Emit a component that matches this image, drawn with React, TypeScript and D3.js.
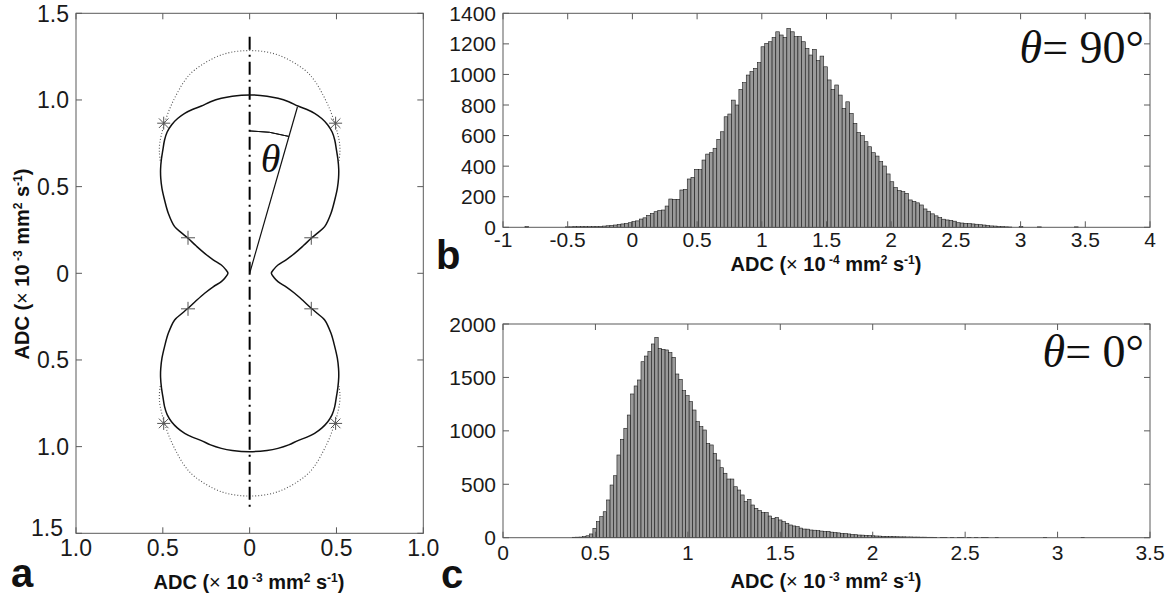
import React from 'react';
import * as d3 from 'd3';

// panel a: ADC profile, one quadrant (x, y in 10^-3 mm^2 s^-1), mirrored to the other three
const profileX = [0, 0.10, 0.163, 0.225, 0.278, 0.330, 0.374, 0.415, 0.45, 0.475, 0.49, 0.50, 0.508, 0.513, 0.512, 0.505, 0.490, 0.468, 0.432, 0.394, 0.355, 0.31, 0.259, 0.21, 0.163, 0.14, 0.125];
const profileY = [1.029, 1.022, 1.01, 0.99, 0.965, 0.945, 0.923, 0.893, 0.856, 0.815, 0.769, 0.71, 0.66, 0.60, 0.55, 0.49, 0.423, 0.345, 0.269, 0.235, 0.202, 0.16, 0.115, 0.078, 0.048, 0.024, 0];
// dotted outline, one quadrant
const outlineX = [0, 0.163, 0.317, 0.375, 0.422, 0.46, 0.49, 0.508, 0.518, 0.52, 0.515];
const outlineY = [1.285, 1.26, 1.173, 1.11, 1.03, 0.95, 0.866, 0.80, 0.75, 0.70, 0.65];
const starMarks = [[0.495, 0.866]];
const plusMarks = [[0.355, 0.205]];
const thetaDeg = 16;

const aXTicks = [-1, -0.5, 0, 0.5, 1];
const aXTickLabels = ['1.0', '0.5', '0', '0.5', '1.0'];
const aYTicks = [1.5, 1, 0.5, 0, -0.5, -1, -1.5];
const aYTickLabels = ['1.5', '1.0', '0.5', '0', '0.5', '1.0', '1.5'];

// panel b: theta = 90 deg, 150 bins
const bStart = -0.83;
const bBin = 0.0285;
const bCounts = [
  5, 0, 0, 0, 0, 0, 0, 0, 0, 0, 0,
  3, 3, 4, 4, 4, 4, 4, 5, 5, 6,
  8, 10, 12, 15, 18, 22, 25, 30, 37, 42,
  54, 62, 78, 90, 102, 110, 113, 139, 185, 183,
  183, 244, 248, 316, 327, 379, 377, 440, 479, 488,
  517, 575, 625, 723, 741, 832, 800, 902, 946, 996,
  1018, 1040, 1077, 1181, 1203, 1214, 1242, 1279, 1258, 1242,
  1301, 1279, 1247, 1247, 1214, 1171, 1127, 1164, 1090, 1120,
  1050, 964, 902, 931, 865, 778, 821, 745, 680, 619,
  600, 560, 527, 488, 466, 430, 401, 349, 298, 260,
  240, 233, 222, 179, 170, 160, 146, 120, 105, 88,
  75, 63, 53, 48, 45, 40, 30, 28, 26, 24,
  22, 20, 17, 15, 12, 9, 8, 6, 5, 3,
  2, 0, 0, 4, 0, 0, 0, 0, 3, 0,
  0, 0, 0, 0, 0, 0, 0, 0, 3
];
const bXTicks = [-1, -0.5, 0, 0.5, 1, 1.5, 2, 2.5, 3, 3.5, 4];
const bXTickLabels = ['-1', '-0.5', '0', '0.5', '1', '1.5', '2', '2.5', '3', '3.5', '4'];
const bYTicks = [0, 200, 400, 600, 800, 1000, 1200, 1400];

// panel c: theta = 0 deg, 150 bins
const cStart = 0.3746;
const cBin = 0.0186;
const cCounts = [
  4, 5, 6, 10, 18, 35, 88, 150, 197, 243,
  353, 493, 580, 774, 921, 1024, 1148, 1345, 1420, 1476,
  1647, 1700, 1741, 1813, 1875, 1772, 1763, 1757, 1732, 1688,
  1532, 1482, 1376, 1329, 1273, 1195, 1086, 1039, 1008, 883,
  868, 790, 727, 655, 603, 549, 549, 477, 446, 400,
  337, 359, 306, 275, 253, 234, 234, 203, 181, 190,
  166, 150, 135, 119, 110, 103, 90, 81, 80, 72,
  70, 66, 62, 58, 60, 52, 48, 45, 40, 38,
  35, 30, 28, 25, 24, 22, 20, 18, 16, 15,
  13, 12, 10, 10, 9, 8, 8, 7, 7, 6,
  6, 5, 5, 4, 4, 3, 0, 3, 3, 0,
  3, 0, 3, 3, 0, 3, 0, 2, 0, 2,
  2, 0, 0, 2, 0, 0, 0, 0, 0, 0,
  0, 0, 0, 0, 0, 0, 0, 2, 0, 0,
  0, 0, 0, 0, 0, 0, 0, 0, 2, 0
];
const cXTicks = [0, 0.5, 1, 1.5, 2, 2.5, 3, 3.5];
const cXTickLabels = ['0', '0.5', '1', '1.5', '2', '2.5', '3', '3.5'];
const cYTicks = [0, 500, 1000, 1500, 2000];

const SANS = '"Liberation Sans", Arial, Helvetica, sans-serif';
const SERIF = '"Liberation Serif", "Times New Roman", serif';
const AXIS = '#5a5a5a';

function Box({ x, y, xTicks, xLabels, yTicks, yLabels, fontSize, xGap, lastShift }: any) {
  const [x0, x1] = x.range();
  const [yb, yt] = y.range();
  const t = 6;
  return (
    <g>
      <rect x={x0} y={yt} width={x1 - x0} height={yb - yt} fill="none" stroke={AXIS} strokeWidth={1} />
      {xTicks.map((v: number, i: number) => (
        <g key={'x' + i}>
          <line x1={x(v)} x2={x(v)} y1={yb} y2={yb - t} stroke={AXIS} />
          <line x1={x(v)} x2={x(v)} y1={yt} y2={yt + t} stroke={AXIS} />
          <text x={x(v)} y={yb + xGap} textAnchor="middle" fontFamily={SANS} fontSize={fontSize} fill="#1a1a1a">{xLabels[i]}</text>
        </g>
      ))}
      {yTicks.map((v: number, i: number) => {
        const s = lastShift && i === yTicks.length - 1 ? lastShift : [0, 0];
        return (
          <g key={'y' + i}>
            <line x1={x0} x2={x0 + t} y1={y(v)} y2={y(v)} stroke={AXIS} />
            <line x1={x1} x2={x1 - t} y1={y(v)} y2={y(v)} stroke={AXIS} />
            <text x={x0 - 7 + s[0]} y={y(v) + s[1]} dy="0.36em" textAnchor="end" fontFamily={SANS} fontSize={fontSize} fill="#1a1a1a">{yLabels[i]}</text>
          </g>
        );
      })}
    </g>
  );
}

function AdcLabel({ x, y, exp, rotate }: any) {
  return (
    <text x={x} y={y} textAnchor="middle" fontFamily={SANS} fontWeight="bold" fontSize={20} fill="#111"
      transform={rotate ? `rotate(-90 ${x} ${y})` : undefined}>
      ADC (<tspan fontWeight="normal">×</tspan> 10<tspan dy={-7} fontSize={12}> {exp}</tspan><tspan dy={7}> mm</tspan><tspan dy={-7} fontSize={12}>2</tspan><tspan dy={7}> s</tspan><tspan dy={-7} fontSize={12}>-1</tspan><tspan dy={7}>)</tspan>
    </text>
  );
}

function Histogram({ counts, start, bin, x, y }: any) {
  return (
    <g>
      {counts.map((c: number, k: number) => {
        if (c <= 0) return null;
        const xl = x(start + k * bin);
        const xr = x(start + (k + 1) * bin);
        return <rect key={k} x={xl} y={y(c)} width={xr - xl} height={y(0) - y(c)} fill="#9a9a9a" stroke="#1a1a1a" strokeWidth={0.6} />;
      })}
    </g>
  );
}

export default function App() {
  const xA = d3.scaleLinear().domain([-1, 1]).range([76, 423.3]);
  const yA = d3.scaleLinear().domain([-1.5, 1.5]).range([533.3, 13.3]);
  const xB = d3.scaleLinear().domain([-1, 4]).range([503, 1150]);
  const yB = d3.scaleLinear().domain([0, 1400]).range([227.3, 13.3]);
  const xC = d3.scaleLinear().domain([0, 3.5]).range([503, 1150]);
  const yC = d3.scaleLinear().domain([0, 2000]).range([537.7, 324]);

  const quarter = profileX.map((px, i) => [px, profileY[i]]);
  const rightHalf = [...quarter, ...quarter.slice(0, -1).reverse().map(([px, py]) => [px, -py])];
  const full = [...rightHalf, ...rightHalf.slice(1, -1).reverse().map(([px, py]) => [-px, py])];
  const closed = d3.line<number[]>().x(d => xA(d[0])).y(d => yA(d[1])).curve(d3.curveCatmullRomClosed.alpha(0.5));
  const open = d3.line<number[]>().x(d => xA(d[0])).y(d => yA(d[1])).curve(d3.curveCatmullRom.alpha(0.5));

  const oq = outlineX.map((px, i) => [px, outlineY[i]]);
  const topArc = [...oq.slice(1).reverse().map(([px, py]) => [-px, py]), ...oq];
  const botArc = topArc.map(([px, py]) => [px, -py]);

  const quad = (pts: number[][]) => pts.flatMap(([px, py]) => [[px, py], [-px, py], [px, -py], [-px, -py]]);
  const th = (thetaDeg * Math.PI) / 180;
  const R = xA(0.82) - xA(0);
  const arcPath = d3.arc()({ innerRadius: R, outerRadius: R, startAngle: 0, endAngle: th } as any) as string;

  return (
    <svg width={1167} height={597} style={{ position: 'absolute', left: 0, top: 0, background: '#fff' }}>
      <rect width={1167} height={597} fill="#fff" />

      {/* panel a */}
      <path d={open(topArc) as string} fill="none" stroke="#555" strokeWidth={1.1} strokeDasharray="1 2" />
      <path d={open(botArc) as string} fill="none" stroke="#555" strokeWidth={1.1} strokeDasharray="1 2" />
      <line x1={xA(0)} x2={xA(0)} y1={yA(1.365)} y2={yA(-1.35)} stroke="#000" strokeWidth={2} strokeDasharray="13 5 2 5" />
      <path d={closed(full) as string} fill="none" stroke="#111" strokeWidth={1.5} />
      <line x1={xA(0)} y1={yA(0)} x2={xA(0.998 * Math.sin(th))} y2={yA(0.998 * Math.cos(th))} stroke="#111" strokeWidth={1.2} />
      <path d={arcPath} transform={`translate(${xA(0)},${yA(0)})`} fill="none" stroke="#111" strokeWidth={1} />
      <text x={xA(0.12)} y={yA(0.585)} textAnchor="middle" fontFamily={SERIF} fontStyle="italic" fontSize={40} fill="#111">θ</text>
      {quad(starMarks).map(([px, py], i) => {
        const cx = xA(px), cy = yA(py), s = 6.5, d = 4.8;
        return (
          <g key={'s' + i} stroke="#555" strokeWidth={1}>
            <line x1={cx - s} x2={cx + s} y1={cy} y2={cy} />
            <line x1={cx} x2={cx} y1={cy - s} y2={cy + s} />
            <line x1={cx - d} x2={cx + d} y1={cy - d} y2={cy + d} />
            <line x1={cx - d} x2={cx + d} y1={cy + d} y2={cy - d} />
          </g>
        );
      })}
      {quad(plusMarks).map(([px, py], i) => {
        const cx = xA(px), cy = yA(py), s = 7;
        return (
          <g key={'p' + i} stroke="#555" strokeWidth={1}>
            <line x1={cx - s} x2={cx + s} y1={cy} y2={cy} />
            <line x1={cx} x2={cx} y1={cy - s} y2={cy + s} />
          </g>
        );
      })}
      <Box x={xA} y={yA} xTicks={aXTicks} xLabels={aXTickLabels} yTicks={aYTicks} yLabels={aYTickLabels} fontSize={23} xGap={23} lastShift={[-6, -6]} />
      <AdcLabel x={249} y={589} exp="-3" />
      <AdcLabel x={29} y={264} exp="-3" rotate />
      <text x={11} y={587} fontFamily={SANS} fontWeight="bold" fontSize={40} fill="#111">a</text>

      {/* panel b */}
      <Histogram counts={bCounts} start={bStart} bin={bBin} x={xB} y={yB} />
      <Box x={xB} y={yB} xTicks={bXTicks} xLabels={bXTickLabels} yTicks={bYTicks} yLabels={bYTicks.map(String)} fontSize={21} xGap={20} />
      <AdcLabel x={826} y={271} exp="-4" />
      <text x={436} y={269} fontFamily={SANS} fontWeight="bold" fontSize={40} fill="#111">b</text>
      <text x={1144} y={63} textAnchor="end" fontFamily={SERIF} fontSize={46} fill="#111">
        <tspan fontStyle="italic">θ</tspan>= 90°
      </text>

      {/* panel c */}
      <Histogram counts={cCounts} start={cStart} bin={cBin} x={xC} y={yC} />
      <Box x={xC} y={yC} xTicks={cXTicks} xLabels={cXTickLabels} yTicks={cYTicks} yLabels={cYTicks.map(String)} fontSize={21} xGap={22} />
      <AdcLabel x={826} y={588} exp="-3" />
      <text x={441} y={588} fontFamily={SANS} fontWeight="bold" fontSize={40} fill="#111">c</text>
      <text x={1144} y={367} textAnchor="end" fontFamily={SERIF} fontSize={46} fill="#111">
        <tspan fontStyle="italic">θ</tspan>= 0°
      </text>
    </svg>
  );
}
